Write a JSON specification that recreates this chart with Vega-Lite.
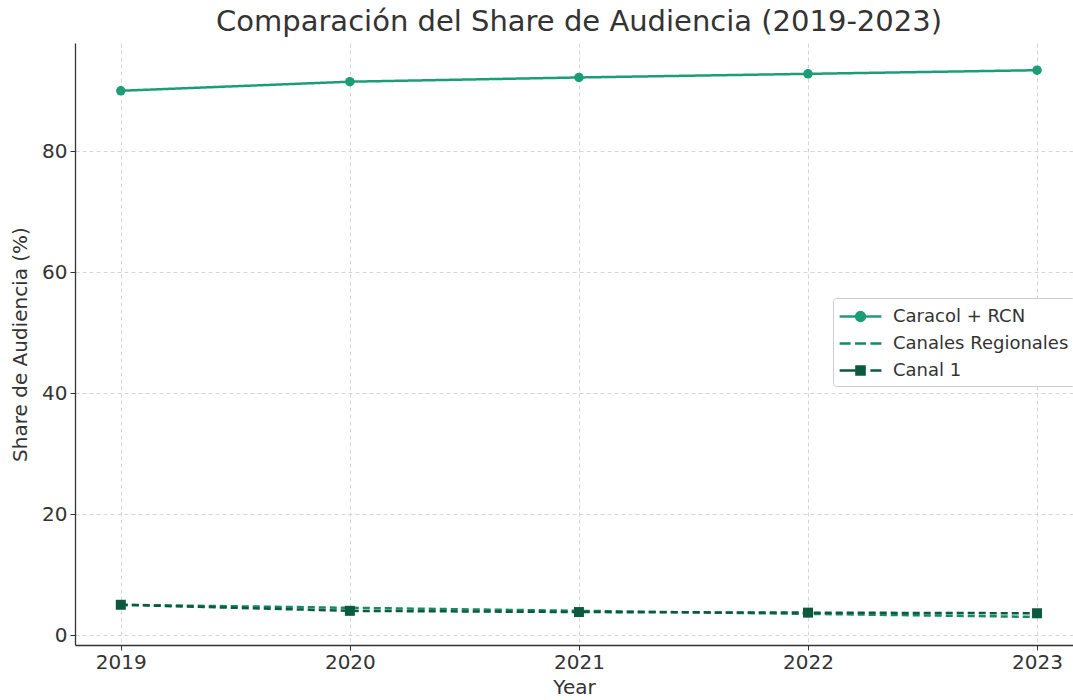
{
  "$schema": "https://vega.github.io/schema/vega-lite/v6.json",
  "autosize": {"type": "none"},
  "width": 998,
  "height": 602,
  "padding": {"left": 75, "top": 43, "right": 0, "bottom": 55},
  "background": "white",
  "config": {
    "font": "DejaVu Sans",
    "view": {"stroke": null},
    "axis": {
      "labelFont": "DejaVu Sans",
      "titleFont": "DejaVu Sans",
      "labelFontSize": 20,
      "titleFontSize": 20,
      "labelColor": "#333333",
      "titleColor": "#333333",
      "titleFontWeight": "normal",
      "domainColor": "#333333",
      "domainWidth": 1.3,
      "tickColor": "#333333",
      "tickSize": 5,
      "gridColor": "#cccccc",
      "gridDash": [4, 3],
      "gridWidth": 0.8
    }
  },
  "title": {
    "text": "Comparación del Share de Audiencia (2019-2023)",
    "fontSize": 29,
    "font": "DejaVu Sans",
    "fontWeight": "normal",
    "color": "#333333",
    "anchor": "middle",
    "dx": 5,
    "offset": 6
  },
  "data": {
    "values": [
      {"year": 2019, "share": 90.0, "canal": "Caracol + RCN"},
      {"year": 2020, "share": 91.5, "canal": "Caracol + RCN"},
      {"year": 2021, "share": 92.2, "canal": "Caracol + RCN"},
      {"year": 2022, "share": 92.8, "canal": "Caracol + RCN"},
      {"year": 2023, "share": 93.4, "canal": "Caracol + RCN"},
      {"year": 2019, "share": 5.0, "canal": "Canales Regionales"},
      {"year": 2020, "share": 4.5, "canal": "Canales Regionales"},
      {"year": 2021, "share": 4.0, "canal": "Canales Regionales"},
      {"year": 2022, "share": 3.5, "canal": "Canales Regionales"},
      {"year": 2023, "share": 3.0, "canal": "Canales Regionales"},
      {"year": 2019, "share": 5.0, "canal": "Canal 1"},
      {"year": 2020, "share": 4.0, "canal": "Canal 1"},
      {"year": 2021, "share": 3.8, "canal": "Canal 1"},
      {"year": 2022, "share": 3.7, "canal": "Canal 1"},
      {"year": 2023, "share": 3.6, "canal": "Canal 1"}
    ]
  },
  "encoding": {
    "x": {
      "field": "year",
      "type": "quantitative",
      "scale": {"domain": [2018.8, 2023.157], "nice": false, "zero": false},
      "axis": {"values": [2019, 2020, 2021, 2022, 2023], "format": "d", "title": "Year", "titlePadding": 5, "labelPadding": 2}
    },
    "y": {
      "field": "share",
      "type": "quantitative",
      "scale": {"domain": [-1.65, 97.9], "nice": false, "zero": false},
      "axis": {"values": [0, 20, 40, 60, 80], "title": "Share de Audiencia (%)", "titlePadding": 11, "labelPadding": 3}
    }
  },
  "layer": [
    {
      "mark": {"type": "line", "strokeWidth": 2.5},
      "encoding": {
        "stroke": {
          "field": "canal",
          "type": "nominal",
          "scale": {"domain": ["Canal 1", "Canales Regionales", "Caracol + RCN"], "range": ["#0b5a3e", "#148a66", "#1b9e77"]},
          "legend": null
        },
        "strokeDash": {
          "field": "canal",
          "type": "nominal",
          "scale": {"domain": ["Canal 1", "Canales Regionales", "Caracol + RCN"], "range": [[7, 4], [7, 4], [1, 0]]},
          "legend": null
        }
      }
    },
    {
      "transform": [{"filter": "datum.canal === 'Caracol + RCN'"}],
      "mark": {"type": "circle", "size": 90, "color": "#1b9e77", "opacity": 1}
    },
    {
      "transform": [{"filter": "datum.canal === 'Canal 1'"}],
      "mark": {"type": "square", "size": 100, "color": "#0b5a3e", "opacity": 1}
    },
    {
      "mark": {"type": "point", "filled": true, "opacity": 0, "strokeWidth": 2},
      "encoding": {
        "color": {
          "field": "canal",
          "type": "nominal",
          "scale": {"domain": ["Caracol + RCN", "Canales Regionales", "Canal 1"], "range": ["#1b9e77", "#148a66", "#0b5a3e"]},
          "legend": {
            "title": null,
            "orient": "none",
            "legendX": 758,
            "legendY": 255,
            "direction": "vertical",
            "fillColor": "white",
            "strokeColor": "#cccccc",
            "cornerRadius": 3,
            "padding": 6,
            "rowPadding": 5,
            "labelFont": "DejaVu Sans",
            "labelFontSize": 18,
            "labelLimit": 400,
            "labelColor": "#333333",
            "labelOffset": 29,
            "symbolSize": 484,
            "symbolOpacity": 1,
            "symbolStrokeWidth": 2.5,
            "encode": {"symbols": {"update": {"stroke": {"scale": "color", "field": "value"}, "fill": {"scale": "color", "field": "value"}, "opacity": {"value": 1}}}}
          }
        },
        "shape": {
          "field": "canal",
          "type": "nominal",
          "scale": {
            "domain": ["Caracol + RCN", "Canales Regionales", "Canal 1"],
            "range": [
              "M-1.08,0L2.72,0M1.22,0A0.4,0.4,0,1,1,0.42,0A0.4,0.4,0,1,1,1.22,0Z",
              "M-1.08,0L-0.08,0M0.32,0L1.32,0M1.72,0L2.72,0",
              "M-1.08,0L0.5,0M0.45,-0.37L1.19,-0.37L1.19,0.37L0.45,0.37ZM1.72,0L2.72,0"
            ]
          },
          "legend": {"title": null}
        }
      }
    }
  ]
}
